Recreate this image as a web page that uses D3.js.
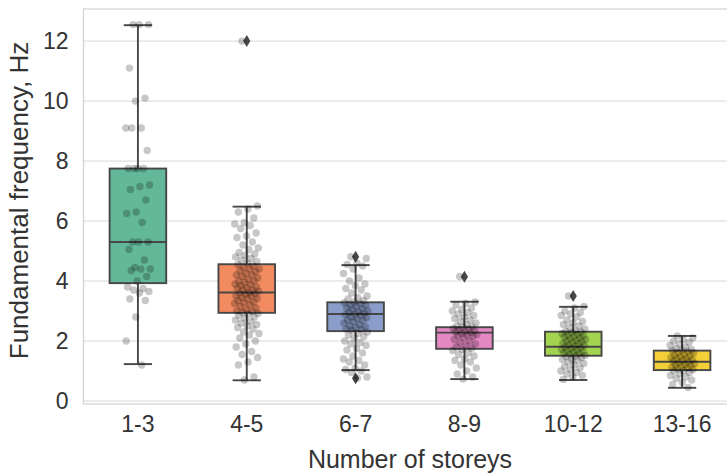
<!DOCTYPE html>
<html>
<head>
<meta charset="utf-8">
<script src="https://cdn.jsdelivr.net/npm/d3@7"></script>
<style>
  body { margin: 0; background: #fff; }
  text { font-family: "Liberation Sans", Arial, sans-serif; fill: #333; }
</style>
</head>
<body>
<div id="chart"></div>
<script>
// categories and box statistics
var groups = ["1-3", "4-5", "6-7", "8-9", "10-12", "13-16"];
var colors = ["#62b898", "#f38b60", "#8b9ecb", "#e388c2", "#a2d450", "#f4cf37"];
var q1 = [3.93, 2.94, 2.33, 1.74, 1.51, 1.03];
var med = [5.30, 3.62, 2.90, 2.28, 1.81, 1.31];
var q3 = [7.75, 4.56, 3.29, 2.46, 2.31, 1.68];
var whiskLo = [1.23, 0.69, 1.03, 0.73, 0.70, 0.44];
var whiskHi = [12.53, 6.48, 4.53, 3.31, 3.14, 2.17];
var outliers = [[], [12.0], [4.81, 0.76], [4.14], [3.50], []];
var yTicks = [0, 2, 4, 6, 8, 10, 12];

// individual observations (strip points)
var pts13 = [12.55, 12.55, 12.55, 11.1, 10.1, 10.0, 9.1, 9.1, 9.1, 8.35, 7.75, 7.75, 7.75, 7.75,
  7.2, 7.15, 7.05, 6.7, 6.3, 6.25, 5.95, 5.3, 5.3, 5.3, 5.05, 4.7, 4.45, 4.4, 4.4, 4.35, 4.15,
  4.0, 3.8, 3.75, 3.7, 3.65, 3.6, 3.4, 3.35, 2.8, 2.0, 1.2];
var pts45 = [12.0, 6.5, 6.4, 6.3, 6.1, 5.95, 5.9, 5.85, 5.75, 5.6, 5.5, 5.45, 5.3, 5.2, 5.1, 5.05,
  4.95, 4.9, 4.85, 4.8, 4.75, 4.7, 4.65, 4.6, 4.55, 4.5, 4.45, 4.4, 4.4, 4.35, 4.3, 4.25, 4.2, 4.2,
  4.15, 4.1, 4.05, 4.0, 4.0, 3.95, 3.9, 3.88, 3.85, 3.8, 3.78, 3.75, 3.7, 3.7, 3.66, 3.62, 3.6,
  3.58, 3.55, 3.5, 3.5, 3.45, 3.42, 3.4, 3.35, 3.3, 3.28, 3.25, 3.2, 3.15, 3.1, 3.05, 3.0, 2.98,
  2.95, 2.92, 2.9, 2.85, 2.8, 2.75, 2.7, 2.65, 2.6, 2.55, 2.5, 2.45, 2.4, 2.3, 2.25, 2.2, 2.1,
  2.0, 1.9, 1.8, 1.65, 1.55, 1.45, 1.3, 1.2, 0.8, 0.7];
var pts67 = [4.81, 4.75, 4.6, 4.55, 4.5, 4.4, 4.25, 4.1, 4.0, 3.9, 3.85, 3.75, 3.7, 3.6, 3.5, 3.45,
  3.4, 3.35, 3.3, 3.28, 3.25, 3.2, 3.18, 3.15, 3.1, 3.08, 3.05, 3.0, 2.98, 2.95, 2.92, 2.9, 2.88,
  2.85, 2.8, 2.78, 2.75, 2.7, 2.68, 2.65, 2.6, 2.55, 2.5, 2.48, 2.45, 2.4, 2.38, 2.35, 2.3, 2.25,
  2.2, 2.15, 2.1, 2.0, 1.95, 1.9, 1.85, 1.75, 1.7, 1.6, 1.5, 1.4, 1.35, 1.3, 1.2, 1.1, 1.05, 1.0,
  0.95, 0.8, 0.76];
var pts89 = [4.15, 3.3, 3.25, 3.2, 3.1, 3.05, 3.0, 2.95, 2.9, 2.85, 2.8, 2.75, 2.7, 2.65, 2.6,
  2.55, 2.5, 2.48, 2.45, 2.42, 2.4, 2.38, 2.35, 2.32, 2.3, 2.28, 2.25, 2.22, 2.2, 2.18, 2.15, 2.1,
  2.05, 2.0, 1.95, 1.9, 1.85, 1.8, 1.76, 1.72, 1.68, 1.6, 1.55, 1.5, 1.4, 1.35, 1.3, 1.2, 1.1,
  1.0, 0.9, 0.8, 0.73];
var pts1012 = [3.5, 3.15, 3.1, 3.0, 2.95, 2.9, 2.85, 2.8, 2.7, 2.65, 2.6, 2.55, 2.5, 2.45, 2.4,
  2.35, 2.32, 2.3, 2.28, 2.25, 2.22, 2.2, 2.18, 2.15, 2.12, 2.1, 2.08, 2.05, 2.02, 2.0, 1.98, 1.95,
  1.92, 1.9, 1.88, 1.85, 1.82, 1.8, 1.78, 1.75, 1.72, 1.7, 1.68, 1.65, 1.62, 1.6, 1.58, 1.55, 1.52,
  1.5, 1.48, 1.45, 1.4, 1.38, 1.35, 1.3, 1.25, 1.2, 1.15, 1.1, 1.05, 1.0, 0.95, 0.9, 0.85, 0.8, 0.72];
var pts1316 = [2.17, 2.1, 2.05, 2.0, 1.95, 1.9, 1.85, 1.8, 1.75, 1.72, 1.7, 1.68, 1.65, 1.62, 1.6,
  1.55, 1.52, 1.5, 1.48, 1.45, 1.42, 1.4, 1.38, 1.35, 1.32, 1.3, 1.28, 1.25, 1.22, 1.2, 1.18, 1.15,
  1.12, 1.1, 1.08, 1.05, 1.02, 1.0, 0.95, 0.9, 0.85, 0.8, 0.75, 0.7, 0.62, 0.55, 0.45];
var points = [pts13, pts45, pts67, pts89, pts1012, pts1316];

var W = 727, H = 476;
var mL = 83.5, mR = 736.5, mT = 9, mB = 404;
var lineCol = "#474747";
var fontFam = "Liberation Sans, Arial, sans-serif";

var svg = d3.select("#chart").append("svg")
  .attr("width", W).attr("height", H);

var x = d3.scaleBand().domain(groups).range([mL, mR]);
var y = d3.scaleLinear().domain([-0.1, 13.07]).range([mB, mT]);

var bw = x.bandwidth();
var boxW = bw * 0.52;
var capW = boxW * 0.5;
var cx = function(i) { return x(groups[i]) + bw / 2; };

// grid
svg.append("g").selectAll("line").data(yTicks).enter().append("line")
  .attr("x1", mL).attr("x2", mR)
  .attr("y1", function(d) { return y(d); }).attr("y2", function(d) { return y(d); })
  .attr("stroke", "#d8d8d8").attr("stroke-width", 1);

// frame
svg.append("rect")
  .attr("x", mL).attr("y", mT).attr("width", mR - mL).attr("height", mB - mT)
  .attr("fill", "none").attr("stroke", "#d0d0d0").attr("stroke-width", 1.2);

// y axis labels
var yAxis = svg.append("g")
  .attr("transform", "translate(" + mL + ",0)")
  .call(d3.axisLeft(y).tickValues(yTicks).tickSize(0).tickPadding(15));
yAxis.select(".domain").remove();
yAxis.selectAll("text").style("font-size", "23px").style("font-family", fontFam).attr("fill", "#333");

// x axis labels
var xAxis = svg.append("g")
  .attr("transform", "translate(0," + mB + ")")
  .call(d3.axisBottom(x).tickSize(0).tickPadding(12));
xAxis.select(".domain").remove();
xAxis.selectAll("text").style("font-size", "23px").style("font-family", fontFam).attr("fill", "#333");

svg.append("text")
  .attr("x", (mL + mR) / 2).attr("y", 468)
  .attr("text-anchor", "middle").style("font-size", "25px")
  .text("Number of storeys");

svg.append("text")
  .attr("transform", "translate(28," + ((mT + mB) / 2 - 6) + ") rotate(-90)")
  .attr("text-anchor", "middle").style("font-size", "26px")
  .text("Fundamental frequency, Hz");

// boxes
var bx = svg.append("g");
groups.forEach(function(g, i) {
  var c = cx(i);
  bx.append("line").attr("x1", c).attr("x2", c)
    .attr("y1", y(q3[i])).attr("y2", y(whiskHi[i]))
    .attr("stroke", lineCol).attr("stroke-width", 1.9);
  bx.append("line").attr("x1", c).attr("x2", c)
    .attr("y1", y(q1[i])).attr("y2", y(whiskLo[i]))
    .attr("stroke", lineCol).attr("stroke-width", 1.9);
  [whiskHi[i], whiskLo[i]].forEach(function(v) {
    bx.append("line").attr("x1", c - capW / 2).attr("x2", c + capW / 2)
      .attr("y1", y(v)).attr("y2", y(v))
      .attr("stroke", lineCol).attr("stroke-width", 1.9);
  });
  bx.append("rect")
    .attr("x", c - boxW / 2).attr("y", y(q3[i]))
    .attr("width", boxW).attr("height", y(q1[i]) - y(q3[i]))
    .attr("fill", colors[i]).attr("stroke", lineCol).attr("stroke-width", 1.9);
  bx.append("line").attr("x1", c - boxW / 2).attr("x2", c + boxW / 2)
    .attr("y1", y(med[i])).attr("y2", y(med[i]))
    .attr("stroke", lineCol).attr("stroke-width", 1.9);
  outliers[i].forEach(function(v) {
    bx.append("path")
      .attr("d", "M0,-6L3.6,0L0,6L-3.6,0Z")
      .attr("transform", "translate(" + c + "," + y(v) + ")")
      .attr("fill", lineCol);
  });
});

// strip points with deterministic jitter
var jitter = bw * 0.115;
var pg = svg.append("g");
points.forEach(function(arr, i) {
  pg.selectAll(null).data(arr).enter().append("circle")
    .attr("cx", function(d, k) { return cx(i) + (((k * 0.6180339887 + 0.31) % 1) - 0.5) * 2 * jitter; })
    .attr("cy", function(d) { return y(d); })
    .attr("r", 3.7)
    .attr("fill", "#000").attr("fill-opacity", 0.22);
});
</script>
</body>
</html>
